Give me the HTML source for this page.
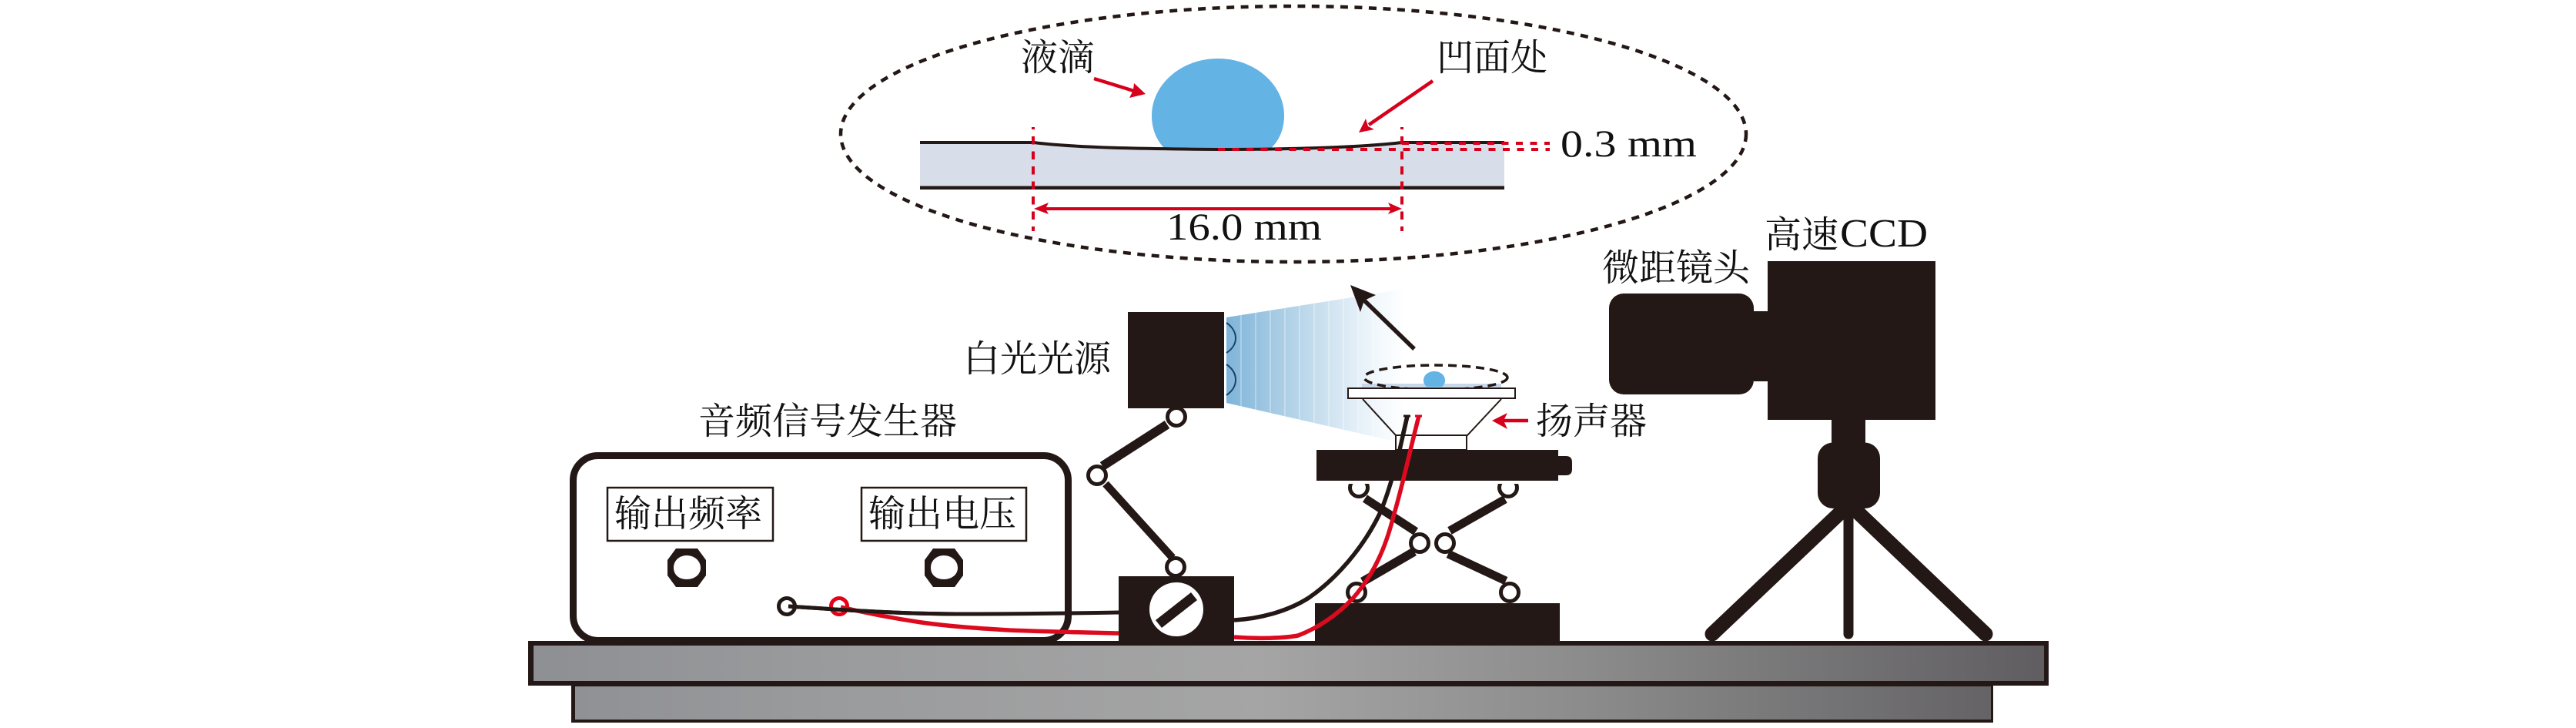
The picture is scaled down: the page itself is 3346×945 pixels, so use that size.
<!DOCTYPE html>
<html lang="zh">
<head>
<meta charset="utf-8">
<title>Diagram</title>
<style>
html,body{margin:0;padding:0;background:#fff;width:3346px;height:945px;overflow:hidden}
svg{display:block}
text{font-family:"Liberation Serif","Noto Serif CJK SC",serif;fill:#111}
.c{font-family:"Noto Serif CJK SC","Liberation Serif",serif;font-size:48px}
.m{font-family:"Liberation Serif",serif;font-size:50px}
</style>
</head>
<body>
<svg width="3346" height="945" viewBox="0 0 3346 945" xmlns="http://www.w3.org/2000/svg">
<defs>
<linearGradient id="tg" gradientUnits="userSpaceOnUse" x1="686" y1="0" x2="2661" y2="0">
<stop offset="0" stop-color="#8e8f93"/><stop offset=".2" stop-color="#9a9b9d"/><stop offset=".48" stop-color="#a5a5a5"/><stop offset=".7" stop-color="#8b8b8b"/><stop offset="1" stop-color="#5f5d60"/>
</linearGradient>
<linearGradient id="beam" gradientUnits="userSpaceOnUse" x1="1593" y1="0" x2="1825" y2="0">
<stop offset="0" stop-color="#7fb4d9"/><stop offset=".3" stop-color="#a9cde5"/><stop offset=".6" stop-color="#d3e5f2"/><stop offset=".85" stop-color="#f2f8fc"/><stop offset="1" stop-color="#ffffff"/>
</linearGradient>
</defs>

<!-- Zoomed detail -->
<ellipse cx="1680" cy="174" rx="588" ry="166" fill="none" stroke="#231815" stroke-width="4.5" stroke-dasharray="10 8.5"/>
<path d="M1582 76C1630 76 1668 110 1668 150C1668 170 1660 185 1648 195H1515C1504 185 1496 170 1496 150C1496 110 1534 76 1582 76Z" fill="#63b3e4"/>
<path d="M1195 187H1343C1400 192 1480 194 1582 195C1680 195 1770 192 1821 187H1954V244H1195Z" fill="#d7dde9"/>
<path d="M1195 185H1343C1400 192 1480 193 1582 194C1680 194 1770 191 1821 185H1954" fill="none" stroke="#231815" stroke-width="4"/>
<rect x="1195" y="241.5" width="759" height="4.5" fill="#231815"/>
<g fill="none" stroke="#d7001c" stroke-width="4">
<path d="M1342 165V300M1821 165V300" stroke-dasharray="10.5 9" stroke-dashoffset="7.5"/>
<path d="M1821 186H2013M1582 194H2013" stroke-dasharray="9 9.5"/>
<path d="M1355 271H1809"/>
<path d="M1421 102L1476 119" stroke-width="4.5"/>
<path d="M1861 105L1778 162" stroke-width="4.5"/>
<path d="M1985 546H1950" stroke-width="4.5"/>
</g>
<g fill="#d7001c">
<polygon points="1343,271 1362,263 1358,271 1362,278"/>
<polygon points="1821,271 1803,263 1807,271 1803,278"/>
<polygon points="1488,122 1467,127 1472,117 1473,108"/>
<polygon points="1765,172 1774,154 1777,164 1785,168"/>
<polygon points="1938,546 1958,536 1953,546 1958,557"/>
</g>
<text class="c" x="1326" y="91">液滴</text>
<text class="c" x="1866" y="91">凹面处</text>
<text class="m" x="2027" y="203" textLength="177" lengthAdjust="spacingAndGlyphs">0.3 mm</text>
<text class="m" x="1515" y="311" textLength="202" lengthAdjust="spacingAndGlyphs">16.0 mm</text>

<!-- Table -->
<rect x="686" y="832" width="1975" height="58" fill="#231815"/>
<rect x="693" y="838" width="1962" height="46" fill="url(#tg)"/>
<rect x="742" y="890" width="1847" height="48" fill="#231815"/>
<rect x="747" y="891" width="1839" height="43" fill="url(#tg)"/>

<!-- Signal generator -->
<rect x="744.5" y="591.5" width="643" height="240" rx="32" ry="32" fill="#fff" stroke="#231815" stroke-width="9"/>
<rect x="686" y="832" width="1975" height="6" fill="#231815"/>
<rect x="789" y="633" width="215" height="69" fill="#fff" stroke="#231815" stroke-width="2.5"/>
<rect x="1119" y="633" width="214" height="69" fill="#fff" stroke="#231815" stroke-width="2.5"/>
<text class="c" x="798" y="683">输出频率</text>
<text class="c" x="1128" y="683">输出电压</text>
<text class="c" x="907" y="563">音频信号发生器</text>
<g fill="#231815" fill-rule="evenodd">
<path d="M878 712H906L917 727V747L906 762H878L867 747V727ZM892 721C882 721 875 728 875 737C875 746 882 752 892 752C902 752 910 746 910 737C910 728 902 721 892 721Z"/>
<path d="M1212 712H1240L1251 727V747L1240 762H1212L1201 747V727ZM1226 721C1216 721 1209 728 1209 737C1209 746 1216 752 1226 752C1236 752 1244 746 1244 737C1244 728 1236 721 1226 721Z"/>
</g>
<circle cx="1090" cy="787" r="10.5" fill="#fff" stroke="#e60019" stroke-width="5"/>
<circle cx="1022" cy="787" r="10.5" fill="#fff" stroke="#231815" stroke-width="5"/>

<!-- Light beam -->
<polygon points="1593,412 1825,375 1825,576 1593,523" fill="url(#beam)"/>
<g stroke="#fff" stroke-width="1" opacity=".6">
<path d="M1612 408V528M1631 405V533M1650 402V537M1669 399V541M1688 396V546M1707 393V550M1726 390V554M1745 387V559M1764 384V563M1783 381V568"/>
</g>
<g fill="none" stroke="#1d3f66" stroke-width="2">
<path d="M1593 419C1609 430 1609 448 1593 458"/>
<path d="M1593 473C1609 484 1609 502 1593 513"/>
</g>
<rect x="1465" y="405" width="125" height="125" fill="#231815"/>
<text class="c" x="1251" y="482">白光光源</text>

<!-- Support arm -->
<g fill="none" stroke="#231815">
<path d="M1516 551L1432 605" stroke-width="12"/>
<path d="M1436 628L1523 724" stroke-width="10"/>
</g>
<g fill="#fff" stroke="#231815" stroke-width="5">
<circle cx="1528" cy="541" r="11.5"/>
<circle cx="1425" cy="617" r="11.5"/>
<circle cx="1527" cy="736" r="11.5"/>
</g>

<!-- Knob box -->
<rect x="1453" y="748" width="150" height="88" fill="#231815"/>
<ellipse cx="1528" cy="791" rx="35" ry="35" fill="#fff"/>
<polygon points="1547,769 1555,779 1509,815 1501,805" fill="#231815"/>

<!-- Black wire -->
<path d="M1024 787C1070 790 1160 797 1254 797C1330 797 1400 796 1453 795" fill="none" stroke="#231815" stroke-width="5"/>

<!-- Scissor lift -->
<rect x="1708" y="783" width="318" height="52" fill="#231815"/>
<rect x="1710" y="584" width="314" height="40" fill="#231815"/>
<path d="M2024 592H2034Q2042 592 2042 600V609Q2042 617 2034 617H2024Z" fill="#231815"/>
<g fill="none" stroke="#231815">
<path d="M1773 647L1839 690" stroke-width="11"/>
<path d="M1955 648L1883 689" stroke-width="11"/>
<path d="M1837 716L1770 755" stroke-width="11.5"/>
<path d="M1881 719L1956 754" stroke-width="11"/>
</g>
<g fill="#fff" stroke="#231815" stroke-width="5">
<circle cx="1765" cy="633" r="11.5"/>
<circle cx="1959" cy="633" r="11.5"/>
<circle cx="1844" cy="705" r="11.5"/>
<circle cx="1877" cy="705" r="11.5"/>
<circle cx="1762" cy="769" r="11.5"/>
<circle cx="1961" cy="769" r="11.5"/>
</g>
<rect x="1745" y="624" width="235" height="4" fill="#fff"/>
<path d="M1603 805C1640 803 1675 792 1700 776C1735 752 1770 712 1792 667C1806 635 1814 600 1828 540" fill="none" stroke="#231815" stroke-width="5.5"/>

<!-- Speaker -->
<rect x="1769" y="498" width="181" height="6" fill="#c8d8e8"/>
<ellipse cx="1865" cy="490" rx="93" ry="16" fill="none" stroke="#231815" stroke-width="3.5" stroke-dasharray="11 7"/>
<path d="M1863 482C1871 482 1877 487 1877 494C1877 498 1875 500 1873 502H1853C1851 500 1849 498 1849 494C1849 487 1855 482 1863 482Z" fill="#63b3e4"/>
<rect x="1751" y="504" width="217" height="13" fill="#fff" stroke="#231815" stroke-width="2"/>
<rect x="1770" y="516" width="180" height="2" fill="#231815"/>
<path d="M1770 518L1813 565H1906L1950 518" fill="none" stroke="#231815" stroke-width="2"/>
<rect x="1813" y="565" width="92" height="19" fill="#fff" stroke="#231815" stroke-width="2"/>
<path d="M1818 584L1828 540" fill="none" stroke="#231815" stroke-width="5.5"/>
<rect x="1823" y="538.5" width="9" height="3" fill="#231815"/>
<rect x="1838" y="538.5" width="9" height="3" fill="#e60019"/>
<text class="c" x="1995" y="563">扬声器</text>

<!-- Red wire -->
<path d="M1092 788C1130 797 1170 804 1197 808C1240 814 1280 816 1311 818C1360 820 1410 821 1453 822" fill="none" stroke="#dc0a1e" stroke-width="5.5"/>
<path d="M1603 827C1630 829 1665 829 1686 825C1712 815 1735 800 1757 777C1785 745 1800 710 1810 670C1822 630 1830 590 1843 540" fill="none" stroke="#dc0a1e" stroke-width="5.5"/>
<!-- black wire over terminals at generator -->
<path d="M1024 787C1070 790 1160 797 1254 797" fill="none" stroke="#231815" stroke-width="5"/>

<!-- Black arrow -->
<path d="M1837 453L1770 388" stroke="#231815" stroke-width="5.5" fill="none"/>
<polygon points="1754,370 1787,383 1772,390 1767,405" fill="#231815"/>

<!-- Camera -->
<rect x="2296" y="339" width="218" height="206" fill="#231815"/>
<rect x="2278" y="404" width="20" height="91" fill="#231815"/>
<rect x="2090" y="381" width="188" height="131" rx="19" ry="19" fill="#231815"/>
<rect x="2379" y="544" width="44" height="34" fill="#231815"/>
<rect x="2361" y="574.5" width="81" height="85.5" rx="20" ry="20" fill="#231815"/>
<g stroke="#231815" fill="none" stroke-linecap="round">
<path d="M2394 662L2224 823" stroke-width="19"/>
<path d="M2410 662L2579 823" stroke-width="19"/>
<path d="M2401 660V823" stroke-width="13"/>
</g>
<text class="c" x="2292" y="321">高速</text>
<text x="2390" y="320" font-size="52" textLength="114" lengthAdjust="spacingAndGlyphs" style="font-family:'Liberation Serif',serif">CCD</text>
<text class="c" x="2081" y="364">微距镜头</text>
</svg>
</body>
</html>
